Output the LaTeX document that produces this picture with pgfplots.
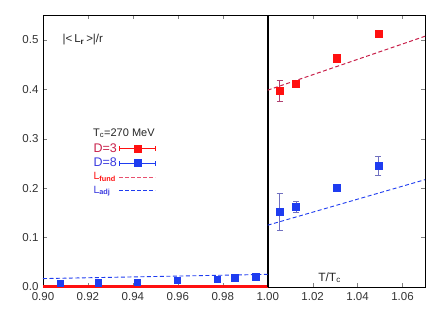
\documentclass[border=0pt]{standalone}
\usepackage{pgfplots}
\pgfplotsset{compat=1.18}
\usepackage{fontspec}
\setmainfont{Liberation Sans}
\definecolor{pred}{HTML}{FF1010}
\definecolor{pcrim}{HTML}{C8204A}
\definecolor{pblue}{HTML}{1E3CF0}
\definecolor{tblue}{HTML}{3A3ADF}
\definecolor{ebred}{HTML}{B04070}
\definecolor{ebblue}{HTML}{7070C0}
\definecolor{lfund}{HTML}{E8506E}
\pgfplotsset{
  ebimgred/.style={legend image code/.code={
    \draw[pred, line width=0.6pt] (0pt,0pt) -- (36pt,0pt);
    \draw[pred, line width=0.6pt] (0pt,-2.5pt) -- (0pt,2.5pt);
    \draw[pred, line width=0.6pt] (36pt,-2.5pt) -- (36pt,2.5pt);
    \fill[pred] (14.5pt,-3.5pt) rectangle (21.5pt,3.5pt);}},
  ebimgblue/.style={legend image code/.code={
    \draw[pblue, line width=0.6pt] (0pt,0pt) -- (36pt,0pt);
    \draw[pblue, line width=0.6pt] (0pt,-2.5pt) -- (0pt,2.5pt);
    \draw[pblue, line width=0.6pt] (36pt,-2.5pt) -- (36pt,2.5pt);
    \fill[pblue] (14.5pt,-3.5pt) rectangle (21.5pt,3.5pt);}},
  longline/.style={legend image code/.code={\draw[##1] (0pt,0pt) -- (36pt,0pt);}},
}
\begin{document}
\begin{tikzpicture}
\begin{axis}[
  scale only axis, width=382pt, height=272pt,
  xmin=0.90, xmax=1.07, ymin=0, ymax=0.55,
  xtick={0.90,0.92,...,1.061}, ytick={0,0.1,...,0.51},
  xticklabel style={/pgf/number format/fixed,/pgf/number format/fixed zerofill,/pgf/number format/precision=2, yshift=-1.5pt},
  yticklabel style={/pgf/number format/fixed,/pgf/number format/fixed zerofill,/pgf/number format/precision=1, xshift=-1pt},
  /pgf/number format/assume math mode=true,
  tick label style={font=\fontsize{11.5}{13}\selectfont, text=black!80},
  tick align=inside, major tick length=4pt,
  axis line style={line width=0.8pt},
  legend plot pos=right,
  legend cell align=left,
  legend style={at={(rel axis cs:0.124,0.54)}, anchor=north west, draw=none, fill=none,
    font=\fontsize{10.5}{12}\selectfont, row sep=0.5pt, inner sep=1pt},
  clip=false,
]
% thick red line below Tc (D=3 values ~ 0)
\addplot[pred, line width=3pt, forget plot] coordinates {(0.90,0) (1.00,0)};
% vertical line at Tc
\addplot[black, line width=1.6pt, forget plot] coordinates {(1.00,0) (1.00,0.55)};
% D=3
\addplot[only marks, mark=square*, mark size=3.6pt, color=pred, forget plot,
  error bars/.cd, y dir=both, y explicit, error mark options={rotate=90, mark size=3pt, ebred},
  error bar style={ebred, line width=0.6pt}]
  coordinates {
  (1.0053,0.3966) +- (0,0.021)
  (1.0126,0.4107) +- (0,0.007)
  (1.0306,0.4626) +- (0,0.004)
  (1.0493,0.5125) +- (0,0.006)
  };
\addlegendimage{ebimgred}
\addlegendentry{\textcolor{pcrim}{\fontsize{12.5}{12}\selectfont D=3}}
% D=8
\addplot[only marks, mark=square*, mark size=3.6pt, color=pblue, forget plot,
  error bars/.cd, y dir=both, y explicit, error mark options={rotate=90, mark size=3pt, ebblue},
  error bar style={ebblue, line width=0.6pt}]
  coordinates {
  (1.0053,0.152) +- (0,0.038)
  (1.0126,0.162) +- (0,0.011)
  (1.0306,0.2006) +- (0,0.006)
  (1.0493,0.2458) +- (0,0.019)
  };
\addplot[only marks, mark=square*, mark size=3.2pt, color=pblue, forget plot]
  coordinates {
  (0.9076,0.0075) (0.9246,0.0087) (0.9420,0.0100) (0.9597,0.0135)
  (0.9774,0.0160) (0.9853,0.0190) (0.9947,0.0210)
  };
\addlegendimage{ebimgblue}
\addlegendentry{\textcolor{tblue}{\fontsize{12.5}{12}\selectfont D=8}}
% fits
\addplot[pcrim, line width=1pt, dash pattern=on 4pt off 2.5pt, forget plot]
  coordinates {(1.00,0.398) (1.07,0.507)};
\addlegendimage{longline, color=lfund, line width=0.9pt, dash pattern=on 4pt off 2pt}
\addlegendentry{\textcolor{pred}{L\textsubscript{\textbf{fund}}}}
\addplot[pblue, line width=0.9pt, dash pattern=on 4pt off 2.5pt, forget plot]
  coordinates {(1.00,0.125) (1.07,0.217)};
\addplot[pblue, line width=0.9pt, dash pattern=on 4pt off 2.5pt, forget plot]
  coordinates {(0.90,0.017) (1.00,0.0255)};
\addlegendimage{longline, color=pblue, line width=0.9pt, dash pattern=on 4pt off 2pt}
\addlegendentry{\textcolor{tblue}{L\textsubscript{\textbf{adj}}}}
% labels
\node[font=\fontsize{11}{13}\selectfont, text=black!85] at (axis cs:0.936,0.311) {T\textsubscript{c}=270 MeV};
\node[anchor=west, font=\fontsize{11.5}{13}\selectfont, text=black!85] at (axis cs:0.9072,0.50) {|<\,L\textsubscript{\textbf{r}}\,>|/r};
\node[font=\fontsize{12}{13}\selectfont, text=black!85] at (axis cs:1.0275,0.019) {T/T\textsubscript{c}};
\end{axis}
\path ([xshift=-43pt,yshift=-22pt]current axis.south west) rectangle ([xshift=11pt,yshift=15pt]current axis.north east);
\end{tikzpicture}
\end{document}
